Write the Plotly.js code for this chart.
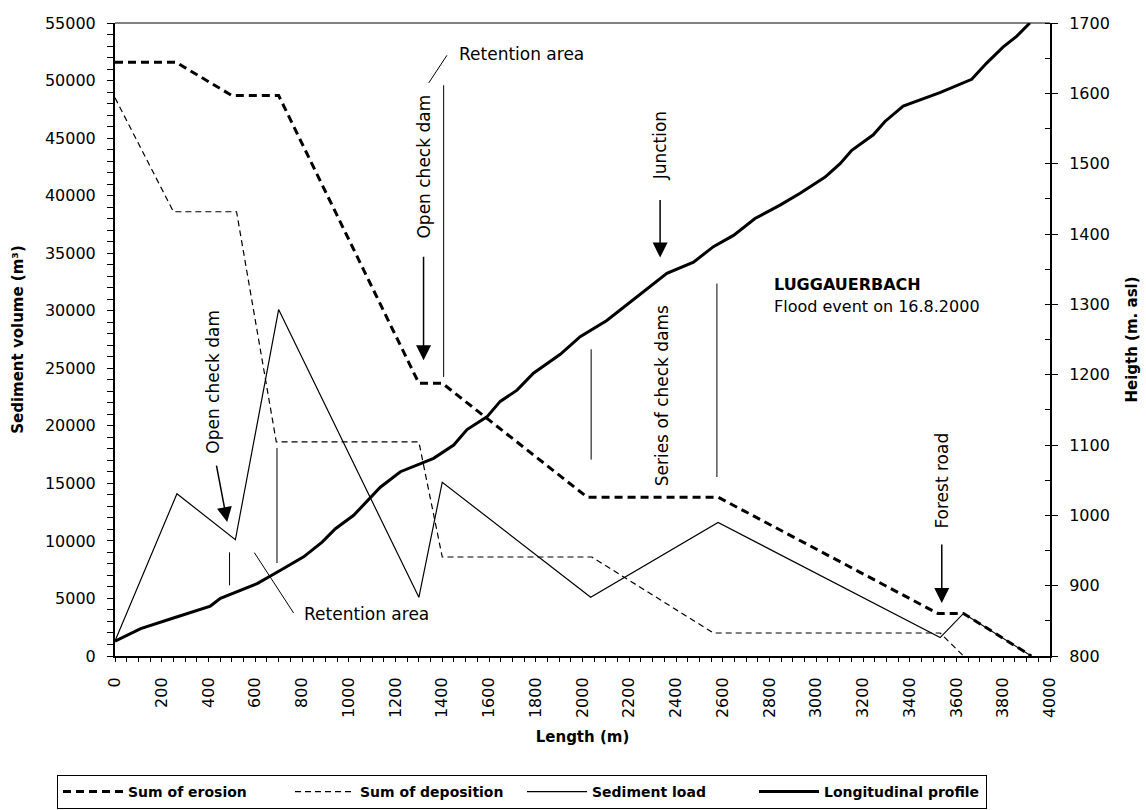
<!DOCTYPE html>
<html>
<head>
<meta charset="utf-8">
<script src="https://cdn.plot.ly/plotly-3.0.1.min.js"></script>
<style>html,body{margin:0;padding:0;background:#fff;}#chart{width:1146px;height:810px;}</style>
</head>
<body>
<div id="chart"></div>
<script>
// ---- data ----
const lengthErosion = [0, 260, 500, 700, 1300, 1400, 2020, 2580, 3520, 3630, 3920];
const sumErosion    = [51600, 51600, 48700, 48700, 23700, 23700, 13800, 13800, 3700, 3700, 0];

const lengthDeposition = [0, 250, 520, 690, 1300, 1400, 2040, 2560, 3530, 3630];
const sumDeposition    = [48500, 38600, 38600, 18600, 18600, 8600, 8600, 2000, 2000, 0];

const lengthLoad   = [0, 265, 515, 700, 1300, 1400, 2035, 2580, 3530, 3630, 3920];
const sedimentLoad = [1300, 14100, 10100, 30100, 5100, 15100, 5100, 11600, 1600, 3700, 0];

const lengthProfile = [0, 110, 250, 408, 451, 608, 708, 807, 886, 943, 1021, 1135, 1221, 1363, 1449, 1506, 1591, 1648, 1720, 1790, 1905, 1990, 2104, 2361, 2475, 2560, 2646, 2738, 2845, 2931, 3038, 3102, 3152, 3244, 3294, 3372, 3529, 3665, 3729, 3800, 3857, 3914];
const heightProfile = [821, 839, 854, 871, 882, 903, 922, 941, 962, 981, 1000, 1040, 1062, 1081, 1100, 1122, 1140, 1162, 1178, 1202, 1229, 1254, 1277, 1344, 1360, 1382, 1398, 1422, 1441, 1458, 1481, 1500, 1519, 1541, 1560, 1582, 1601, 1620, 1643, 1666, 1681, 1700];

const seriesNames = ['Sum of erosion', 'Sum of deposition', 'Sediment load', 'Longitudinal profile'];
const xTickLabels = ['0','200','400','600','800','1000','1200','1400','1600','1800','2000','2200','2400','2600','2800','3000','3200','3400','3600','3800','4000'];

const FONT = 'DejaVu Sans, sans-serif';

const traces = [
  {x: lengthErosion, y: sumErosion, name: seriesNames[0], mode: 'lines',
   line: {color: '#000', width: 3, dash: '8px,5px'}},
  {x: lengthDeposition, y: sumDeposition, name: seriesNames[1], mode: 'lines',
   line: {color: '#000', width: 1.2, dash: '6px,4px'}},
  {x: lengthLoad, y: sedimentLoad, name: seriesNames[2], mode: 'lines',
   line: {color: '#000', width: 1.2}},
  {x: lengthProfile, y: heightProfile, name: seriesNames[3], mode: 'lines', yaxis: 'y2',
   line: {color: '#000', width: 3}}
];

const txt = (x, y, text, opts) => Object.assign({
  x: x, y: y, xref: 'x', yref: 'y', text: text, showarrow: false,
  font: {family: FONT, size: 17, color: '#000'}
}, opts || {});
const arrow = (x, y, ay) => ({
  x: x, y: y, xref: 'x', yref: 'y', text: '', showarrow: true,
  ax: 0, ay: ay, arrowhead: 2, arrowsize: 2, arrowwidth: 1.5, arrowcolor: '#000'
});

const annotations = [
  txt(421, 23870, 'Open check dam', {textangle: -90}),
  Object.assign(arrow(480, 11640, -58), {ax: -11}),
  txt(800, 3620, 'Retention area', {xanchor: 'left'}),
  txt(1323, 42550, 'Open check dam', {textangle: -90}),
  arrow(1320, 25690, -105),
  txt(1463, 52280, 'Retention area', {xanchor: 'left'}),
  txt(2332, 44290, 'Junction', {textangle: -90}),
  arrow(2332, 34620, -59),
  txt(2340, 22650, 'Series of check dams', {textangle: -90}),
  txt(3537, 15220, 'Forest road', {textangle: -90}),
  arrow(3537, 4605, -60),
  txt(2810, 32270, '<b>LUGGAUERBACH</b>', {xanchor: 'left', font: {family: FONT, size: 16, color: '#000'}}),
  txt(2810, 30385, 'Flood event on 16.8.2000', {xanchor: 'left', font: {family: FONT, size: 16, color: '#000'}})
];

const seg = (x0, y0, x1, y1) => ({type: 'line', xref: 'x', yref: 'y', x0: x0, y0: y0, x1: x1, y1: y1,
  line: {color: '#000', width: 1}});
const shapes = [
  seg(490, 9010, 490, 6140),
  seg(596, 8985, 764, 3740),
  seg(693, 18070, 693, 8080),
  seg(1406, 49590, 1406, 24240),
  seg(1342, 49790, 1420, 52190),
  seg(2575, 32360, 2575, 15550),
  seg(2037, 26650, 2037, 17065),
  {type: 'line', xref: 'paper', yref: 'paper', x0: 0, x1: 1, y0: 1, y1: 1, line: {color: '#000', width: 1}}
];

const layout = {
  width: 1146, height: 810,
  margin: {l: 115, r: 96, t: 23, b: 154, autoexpand: false},
  paper_bgcolor: '#fff', plot_bgcolor: '#fff',
  font: {family: FONT, size: 16, color: '#000'},
  showlegend: true,
  legend: {
    orientation: 'h', xref: 'container', yref: 'container',
    x: 57 / 1146, y: (810 - 775) / 810, xanchor: 'left', yanchor: 'top',
    bordercolor: '#000', borderwidth: 1, bgcolor: '#fff',
    font: {family: FONT, size: 14, color: '#000', weight: 'bold'},
    itemwidth: 60, entrywidth: 157, traceorder: 'normal'
  },
  xaxis: {
    range: [0, 4000], tickmode: 'array',
    tickvals: xTickLabels.map(Number), ticktext: xTickLabels,
    tickangle: -90, ticks: 'outside', ticklen: 4, tickwidth: 1, tickcolor: '#000',
    minor: {dtick: 50, ticks: 'outside', ticklen: 4, tickwidth: 1, tickcolor: '#000'},
    showline: true, linewidth: 2, linecolor: '#000', showgrid: false, zeroline: false,
    ticklabelstandoff: 9,
    tickfont: {family: FONT, size: 16},
    title: {text: '<b>Length (m)</b>', font: {family: FONT, size: 15}, standoff: 14}
  },
  yaxis: {
    range: [0, 55000], dtick: 5000, tickformat: 'd',
    ticks: 'outside', ticklen: 6, tickwidth: 1, tickcolor: '#000',
    minor: {dtick: 1000, ticks: 'outside', ticklen: 6, tickwidth: 1, tickcolor: '#000'},
    showline: true, linewidth: 2, linecolor: '#000', showgrid: false, zeroline: false,
    ticklabelstandoff: 8,
    tickfont: {family: FONT, size: 16},
    title: {text: '<b>Sediment volume (m³)</b>', font: {family: FONT, size: 15}, standoff: 18}
  },
  yaxis2: {
    overlaying: 'y', side: 'right', range: [800, 1700], dtick: 100, tickformat: 'd',
    ticks: 'outside', ticklen: 6, tickwidth: 1, tickcolor: '#000',
    minor: {dtick: 50, ticks: 'inside', ticklen: 5, tickwidth: 1, tickcolor: '#000'},
    showline: true, linewidth: 2, linecolor: '#000', showgrid: false, zeroline: false,
    ticklabelstandoff: 8,
    tickfont: {family: FONT, size: 16},
    title: {text: '<b>Heigth (m. asl)</b>', font: {family: FONT, size: 15}, standoff: 18}
  },
  annotations: annotations,
  shapes: shapes
};

Plotly.newPlot('chart', traces, layout, {displayModeBar: false, staticPlot: true});
</script>
</body>
</html>
